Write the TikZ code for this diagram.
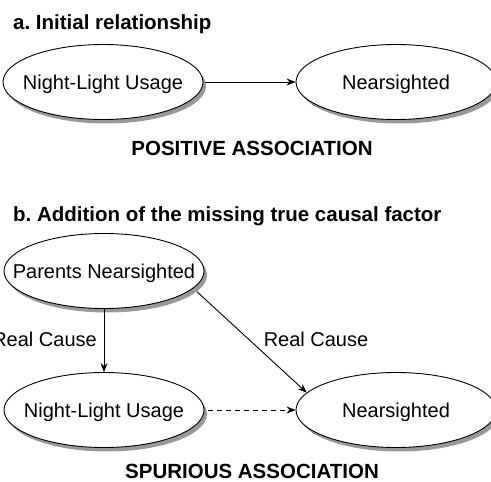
\documentclass[tikz,border=0pt]{standalone}
\usepackage{fontspec}
\setmainfont{Liberation Sans}
\usetikzlibrary{shapes.geometric,shadows,arrows.meta}
\newcommand{\ztext}[1]{\makebox[0pt][c]{#1}}
\begin{document}
\frenchspacing
\begin{tikzpicture}[x=1pt,y=-1pt,
  oval/.style={ellipse, draw=black, line width=0.9pt, fill=white,
    minimum width=200pt, minimum height=75pt, inner sep=0pt,
    text height=14pt, text depth=0pt,
    font=\fontsize{20}{24}\selectfont,
    drop shadow={shadow xshift=3pt, shadow yshift=-4pt, fill=black!40, opacity=1}},
  title/.style={anchor=base west, inner sep=0pt, font=\fontsize{20.5}{24}\selectfont\bfseries},
  caption/.style={anchor=base, inner sep=0pt, font=\fontsize{20.5}{24}\selectfont\bfseries},
  lbl/.style={anchor=base, inner sep=0pt, font=\fontsize{20}{24}\selectfont},
  arr/.style={line width=0.9pt, -{Stealth[length=9pt,width=7pt,inset=3pt]}}
]
\useasboundingbox (0,0) rectangle (491,482);
% part a
\node[title] (ta) at (13,29) {a. Initial relationship};
\node[oval] (nla) at (103,82) {\ztext{Night-Light Usage}};
\node[oval] (nsa) at (396,82) {\ztext{Nearsighted}};
\draw[arr, shorten <=2pt] (nla) -- (nsa);
\node[caption] (pa) at (252,155) {POSITIVE ASSOCIATION};
% part b
\node[title] (tb) at (13,221) {b. Addition of the missing true causal factor};
\node[oval] (pn) at (104,271) {\ztext{Parents Nearsighted}};
\node[oval] (nlb) at (104,410) {\ztext{Night-Light Usage}};
\node[oval] (nsb) at (396,410) {\ztext{Nearsighted}};
\draw[arr] (pn.south) -- (nlb.north);
\draw[arr, shorten <=5pt] (pn.-11) -- (nsb.169);
\draw[arr, dashed, dash pattern=on 5pt off 4pt, shorten <=4pt] (nlb) -- (nsb);
\node[lbl, anchor=base east] (rc1) at (97,346) {Real Cause};
\node[lbl] (rc2) at (316,346) {Real Cause};
\node[caption] (sa) at (252,478) {SPURIOUS ASSOCIATION};
\end{tikzpicture}
\end{document}
